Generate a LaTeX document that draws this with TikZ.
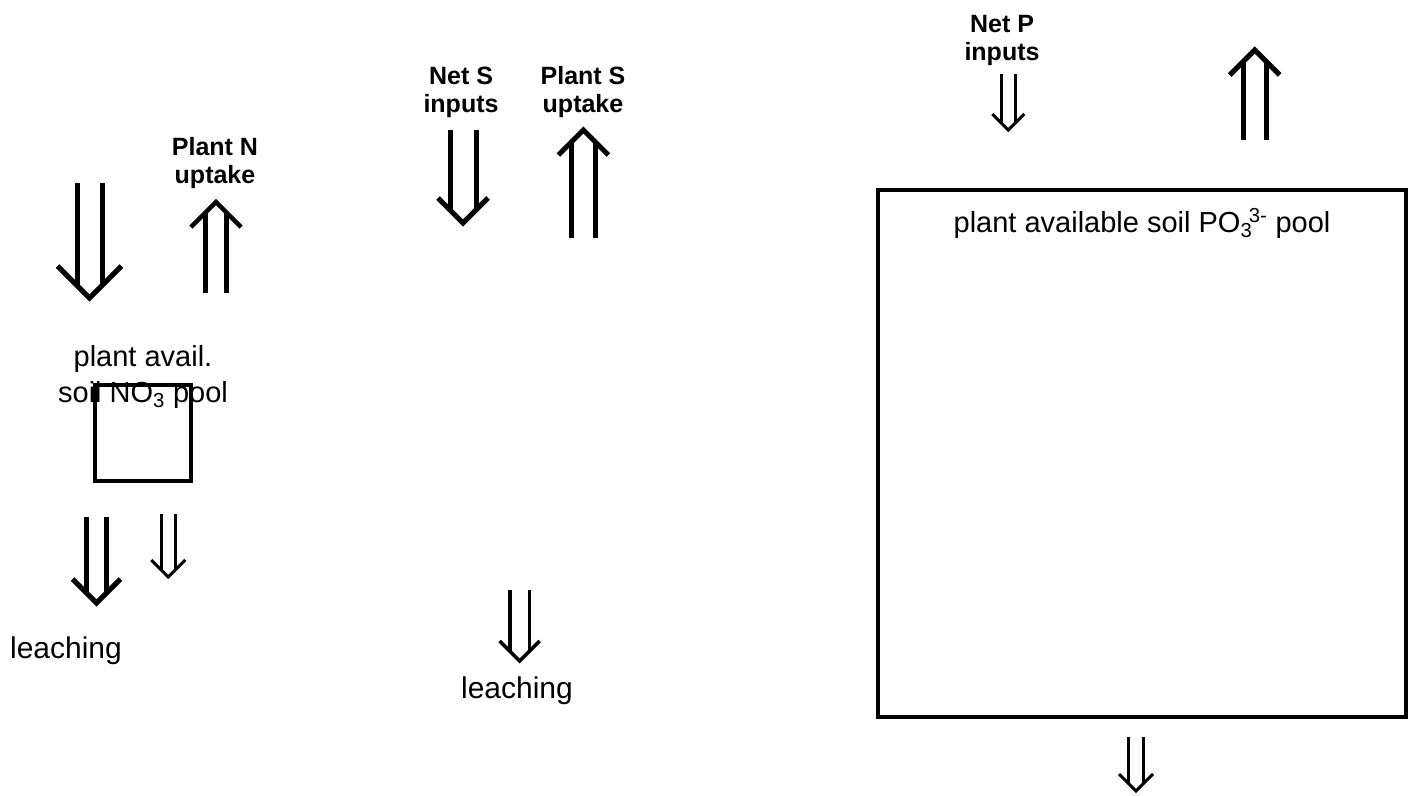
\documentclass[tikz,border=0pt]{standalone}
\usepackage{fontspec}
\setmainfont{Liberation Sans}
% #1 centre x, #2 start y, #3 tip y, #4 half gap, #5 arm length, #6 line width, #7 direction (1 down, -1 up)
\newcommand\dblarr[7]{%
  \draw[dblstroke, line width=#6pt] ({#1-#4},{#2}) -- ({#1-#4},{#3-(#7)*#4})
                                    ({#1+#4},{#2}) -- ({#1+#4},{#3-(#7)*#4});
  \draw[dblstroke, line width=#6pt] ({#1-#5},{#3-(#7)*#5}) -- ({#1},{#3}) -- ({#1+#5},{#3-(#7)*#5});
}
\tikzset{
  dblstroke/.style={black, line cap=butt, line join=miter},
  lab/.style={inner sep=0pt, font=\fontsize{29}{36}\selectfont, align=center},
  blab/.style={inner sep=0pt, font=\fontsize{25}{28}\selectfont\bfseries, align=center},
  pool/.style={draw, line width=4pt, inner sep=0pt},
}
\begin{document}
\begin{tikzpicture}[x=1pt, y=-1pt]
\useasboundingbox (0,0) rectangle (1413,795);
\fill[white] (0,0) rectangle (1413,795);

% N cycle
\node[pool, minimum width=96pt, minimum height=96pt] (poolN) at (143,433) {};
\node[lab, anchor=base] (txtN) at (143,402) {plant avail.\\soil NO\textsubscript{3} pool};
\node[blab, anchor=base] (lblNup) at (215,183) {Plant N\\uptake};
\node[lab, font=\fontsize{30}{36}\selectfont, anchor=base] (leachN) at (66,658) {leaching};
\dblarr{89.5}{183}{298}{12.5}{32}{5}{1}
\dblarr{216}{293}{202}{10.5}{25}{4.5}{-1}
\dblarr{96.5}{517}{603}{10.3}{24}{5}{1}
\dblarr{168.3}{514}{577}{7.3}{17}{3}{1}

% S cycle
\node[blab, anchor=base] (lblSin) at (461,112) {Net S\\inputs};
\node[blab, anchor=base] (lblSup) at (583,112) {Plant S\\uptake};
\node[lab, font=\fontsize{30}{36}\selectfont, anchor=base] (leachS) at (517,698) {leaching};
\dblarr{463}{130}{223}{13}{25}{5}{1}
\dblarr{583.3}{238}{130}{11.7}{25}{5}{-1}
\dblarr{519.7}{590}{661}{9.7}{20}{3.5}{1}

% P cycle
\node[pool, line width=4.5pt, minimum width=528pt, minimum height=527pt] (poolP) at (1142,453.5) {};
\node[lab, anchor=base] (txtP) at (1142,232) {plant available soil PO\textsubscript{3}\kern-0.12em\textsuperscript{3-} pool};
\node[blab, anchor=base] (lblPin) at (1002,60) {Net P\\inputs};
\dblarr{1008.3}{74}{130}{6.7}{16}{3}{1}
\dblarr{1254.7}{140}{50}{11.3}{25}{5}{-1}
\dblarr{1136}{737}{791}{7.3}{17}{3}{1}
\end{tikzpicture}
\end{document}
